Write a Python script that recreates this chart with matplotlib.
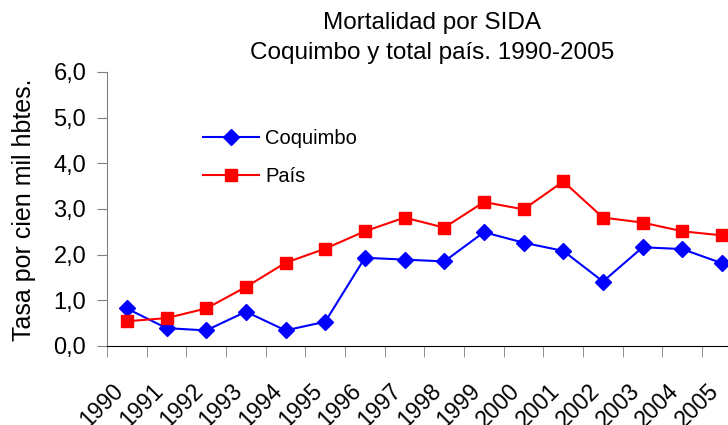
import matplotlib
matplotlib.use("Agg")
import matplotlib.pyplot as plt
import matplotlib.transforms as mtransforms
from matplotlib.ticker import FuncFormatter, FixedLocator

plt.rcParams['font.family'] = ['Liberation Sans', 'DejaVu Sans']

years = ["1990", "1991", "1992", "1993", "1994", "1995", "1996", "1997",
         "1998", "1999", "2000", "2001", "2002", "2003", "2004", "2005"]
coquimbo = [0.82, 0.39, 0.34, 0.75, 0.34, 0.53, 1.93, 1.89,
            1.85, 2.49, 2.26, 2.08, 1.41, 2.16, 2.12, 1.81]
pais = [0.54, 0.61, 0.82, 1.29, 1.82, 2.13, 2.51, 2.81,
        2.59, 3.15, 2.99, 3.60, 2.81, 2.70, 2.51, 2.42]

fig = plt.figure(figsize=(7.28, 4.25), dpi=100)
ax = fig.add_axes([0.147, 0.186, 0.872, 0.645])

x = list(range(len(years)))
ax.plot(x, coquimbo, color="#0000FF", marker="D", markersize=8, lw=1.5,
        label="Coquimbo", clip_on=False)
ax.plot(x, pais, color="#FF0000", marker="s", markersize=9, lw=1.5,
        label="País", clip_on=False)

ax.set_xlim(-0.5, len(years) - 0.5)
ax.set_ylim(0, 6)
ax.set_yticks([0, 1, 2, 3, 4, 5, 6])
ax.yaxis.set_major_formatter(FuncFormatter(lambda v, p: f"{v:.1f}".replace(".", ",")))

# year labels drawn as text, rotated, a little left of each category centre
ax.set_xticks(x)
ax.set_xticklabels([])
ax.tick_params(axis="x", which="major", length=0)
shift = mtransforms.ScaledTranslation(-0.15, -0.33, fig.dpi_scale_trans)
for xi, yr in zip(x, years):
    ax.text(xi, 0, yr, transform=ax.get_xaxis_transform() + shift, rotation=45,
            ha="right", va="top", rotation_mode="anchor", fontsize=16.5)

ax.xaxis.set_minor_locator(FixedLocator([i - 0.5 for i in range(len(years) + 1)]))
ax.tick_params(axis="x", which="minor", length=8, direction="out", color="#808080")
ax.tick_params(axis="y", length=7, direction="out", labelsize=17, color="#808080", pad=8)

ax.spines["top"].set_visible(False)
ax.spines["right"].set_visible(False)
ax.spines["left"].set_color("#808080")
ax.spines["bottom"].set_color("black")

fig.text(0.033, 0.506, "Tasa por cien mil hbtes.", rotation=90, ha="center",
         va="center", fontsize=18)

fig.text(0.594, 0.945, "Mortalidad por SIDA", ha="center", va="center", fontsize=17.5)
fig.text(0.594, 0.875, "Coquimbo y total país. 1990-2005", ha="center", va="center",
         fontsize=17.5)

ax.legend(loc="upper left", bbox_to_anchor=(0.254, 0.74), bbox_transform=fig.transFigure,
          frameon=False, fontsize=14.5, handlelength=2.8, labelspacing=0.95,
          handletextpad=0.3)

fig.savefig("out.png", dpi=100)
